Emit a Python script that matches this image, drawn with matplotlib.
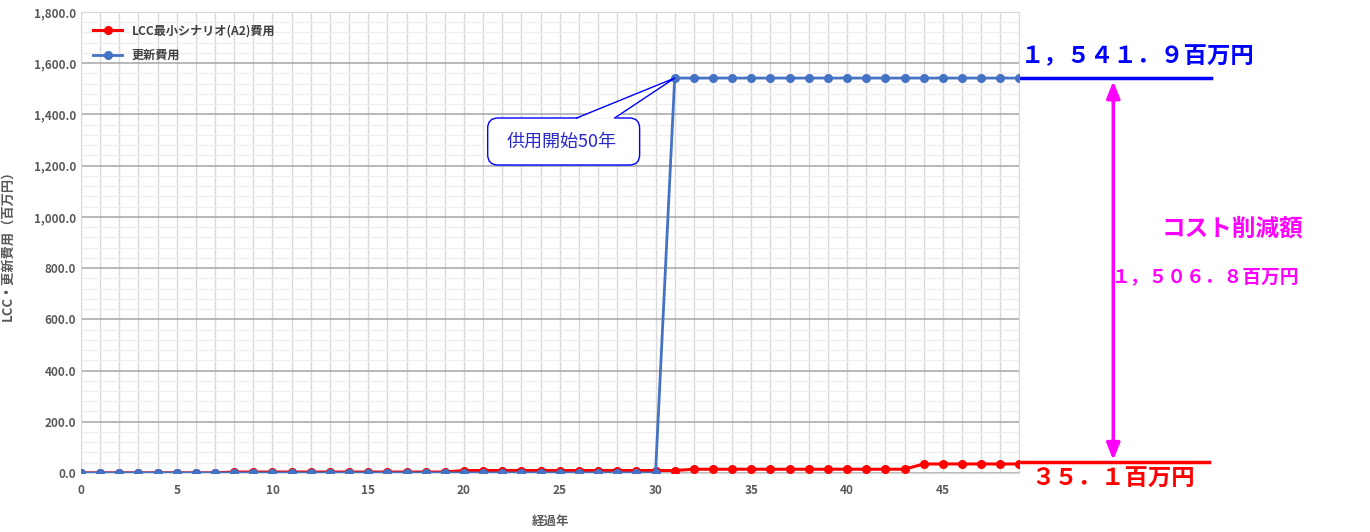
import numpy as np
import matplotlib.pyplot as plt
from matplotlib.patches import FancyBboxPatch, Polygon
from matplotlib.ticker import MultipleLocator, FuncFormatter

plt.rcParams['font.family'] = ['Noto Sans CJK JP', 'DejaVu Sans']

# データ
years = list(range(50))
lcc_cost = [0.5] * 8 + [3.5] * 12 + [9.5] * 12 + [14.5] * 12 + [35.1] * 6
renew_cost = [0.0] * 31 + [1541.9] * 19

label_lcc = 'LCC最小シナリオ(A2)費用'
label_renew = '更新費用'
callout_text = '供用開始50年'
renew_total = '１，５４１．９百万円'
lcc_total = '３５．１百万円'
cut_title = 'コスト削減額'
cut_total = '１，５０６．８百万円'

fig = plt.figure(figsize=(13.70, 5.32), dpi=100)
ax = fig.add_axes([0.0591, 0.111, 0.685, 0.8665])

ax.plot(years, lcc_cost, color='#ff0000', lw=2.2, marker='o', ms=5.5,
        label=label_lcc, zorder=4)
ax.plot(years, renew_cost, color='#4472c4', lw=2.0, marker='o', ms=5.5,
        label=label_renew, zorder=5)

ax.set_xlim(0, 49)
ax.set_ylim(0, 1800)
ax.xaxis.set_major_locator(MultipleLocator(5))
ax.xaxis.set_minor_locator(MultipleLocator(1))
ax.yaxis.set_major_locator(MultipleLocator(200))
ax.yaxis.set_minor_locator(MultipleLocator(40))
ax.yaxis.set_major_formatter(FuncFormatter(lambda v, p: f'{v:,.1f}'))

ax.grid(which='major', axis='y', color='#a6a6a6', lw=1.1)
ax.grid(which='minor', axis='y', color='#eeeeee', lw=0.9)
ax.grid(which='both', axis='x', color='#d9d9d9', lw=1.0)
ax.set_axisbelow(True)
for s in ax.spines.values():
    s.set_color('#d9d9d9')
ax.tick_params(which='both', length=0, labelsize=8.5, labelcolor='#595959')
for t in ax.get_xticklabels() + ax.get_yticklabels():
    t.set_fontweight('bold')
ax.tick_params(axis='x', pad=8)

ax.set_xlabel('経過年', fontsize=9, color='#595959', fontweight='bold', labelpad=13)
ax.set_ylabel('LCC・更新費用（百万円）', fontsize=9.5, color='#595959',
              fontweight='bold', labelpad=14)

leg = ax.legend(loc='upper left', frameon=False, fontsize=8.7,
                labelcolor='#404040', handlelength=2.4, borderaxespad=0.6,
                labelspacing=1.0)
for t in leg.get_texts():
    t.set_fontweight('bold')

# 吹き出し (axes座標)
aspect = 939 / 461
bx0, bx1, by0, by1 = 0.4334, 0.5953, 0.668, 0.770
box = FancyBboxPatch((bx0, by0), bx1 - bx0, by1 - by0,
                     boxstyle='round,pad=0,rounding_size=0.011',
                     mutation_aspect=aspect, transform=ax.transAxes,
                     fc='white', ec='#0000ff', lw=1.0, zorder=6)
ax.add_patch(box)
tip = ax.transAxes.inverted().transform(
    ax.transData.transform((years[31], renew_cost[31])))
wx0, wx1 = 0.5282, 0.5687
wedge = Polygon([(wx0, by1 - 0.002), tip, (wx1, by1 - 0.002)], closed=True,
                transform=ax.transAxes, fc='white', ec='none', zorder=7)
ax.add_patch(wedge)
ax.plot([wx0, tip[0], wx1], [by1, tip[1], by1], transform=ax.transAxes,
        color='#0000ff', lw=1.0, zorder=8)
ax.text((bx0 + bx1) / 2 - 0.002, (by0 + by1) / 2, callout_text,
        transform=ax.transAxes, ha='center', va='center', fontsize=13,
        color='#2828cc', zorder=9)

# 右側の注記
tr = ax.get_yaxis_transform()
ax.plot([1.0, 1.2045], [renew_cost[-1], renew_cost[-1]], transform=tr,
        color='#0000ff', lw=2.5, clip_on=False)
ax.plot([1.0, 1.2025], [lcc_cost[-1] + 8, lcc_cost[-1] + 8], transform=tr,
        color='#ff0000', lw=2.5, clip_on=False)
ax.text(1.001, renew_cost[-1] + 40, renew_total, transform=tr, fontsize=16.8,
        color='#0000ff', fontweight='bold', va='bottom', ha='left')
ax.text(1.013, lcc_cost[-1] - 12, lcc_total, transform=tr, fontsize=16.8,
        color='#ff0000', fontweight='bold', va='top', ha='left')
ax.annotate('', xy=(1.1, 50), xytext=(1.1, 1530), xycoords=tr,
            textcoords=tr,
            arrowprops=dict(arrowstyle='<|-|>,head_length=1.0,head_width=0.4',
                            color='#ff00ff', lw=2.5, shrinkA=0, shrinkB=0))
ax.text(1.227, 955, cut_title, transform=tr, fontsize=17, color='#ff00ff',
        fontweight='bold', va='center', ha='center')
ax.text(1.198, 767, cut_total, transform=tr, fontsize=13.5, color='#ff00ff',
        fontweight='bold', va='center', ha='center')

fig.savefig('out.png', dpi=100)
